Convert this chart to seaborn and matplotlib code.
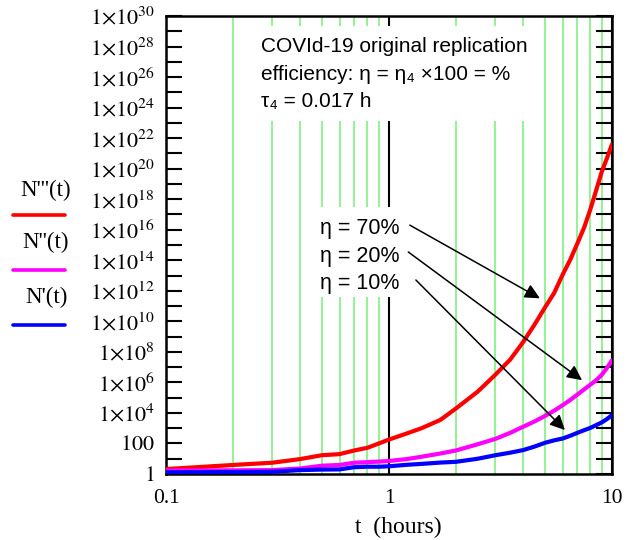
import matplotlib
matplotlib.use("Agg")
import numpy as np
import pandas as pd
import matplotlib.pyplot as plt
import seaborn as sns
from matplotlib.lines import Line2D
from matplotlib.patches import Rectangle
from matplotlib.ticker import LogLocator, NullLocator

# ---------------- data ----------------
t_hours = [0.1, 0.2, 0.3, 0.4, 0.5, 0.6, 0.7, 0.8, 0.9, 1.0, 1.2, 1.4, 1.7, 2.0,
           2.5, 3.0, 3.5, 4.0, 4.5, 5.0, 5.5, 6.0, 6.5, 7.0, 7.5, 8.0, 8.5, 9.0,
           9.5, 10.0]
n_eta70 = [2.1, 3.9, 5.5, 9.5, 17, 20, 35, 52, 100, 180, 450, 1.0e3, 3.5e3, 2.0e4,
           2.5e5, 3.2e6, 3.2e7, 4.5e8, 6.3e9, 7.9e10, 7.1e11, 1.1e13, 1.1e14,
           1.3e15, 1.4e16, 2.2e17, 4.0e18, 6.3e19, 5.0e20, 4.0e21]
n_eta20 = [1.7, 1.74, 1.8, 2.3, 3.5, 3.9, 5.5, 6.0, 6.5, 7.1, 9.5, 13.5, 22, 35,
           89, 200, 500, 1.26e3, 2.8e3, 6.3e3, 1.4e4, 3.2e4, 7.1e4, 1.6e5,
           3.5e5, 7.1e5, 1.4e6, 3.2e6, 8.9e6, 2.8e7]
n_eta10 = [1.3, 1.35, 1.4, 1.8, 1.95, 2.0, 2.8, 3.0, 3.0, 3.2, 4.0, 4.6, 5.6, 6.3,
           10, 17, 25, 37, 63, 110, 160, 210, 320, 500, 740, 1.05e3, 1.6e3,
           2.4e3, 4.0e3, 7.2e3]

series_names = ["N'''(t)", "N''(t)", "N'(t)"]
series_colors = ["#ff0000", "#ff00ff", "#0000ff"]
eta_labels = ["\u03b7 = 70%", "\u03b7 = 20%", "\u03b7 = 10%"]

# arrow geometry for the eta labels (start -> tip, data coords)
arrow_start_t = [1.24, 1.22, 1.32]
arrow_start_n = [2.0e16, 3.5e14, 5.1e12]
arrow_tip_t = [4.75, 7.34, 6.15]
arrow_tip_n = [3.2e11, 1.4e6, 760]

x_tick_values = [0.1, 1, 10]
x_tick_labels = ["0.1", "1", "10"]
y_exponents = list(range(0, 31))

info_lines = ["COVId-19 original replication",
              "efficiency: \u03b7 = \u03b7\u2084 \u00d7100 = %",
              "\u03c4\u2084 = 0.017 h"]

# ---------------- styling ----------------
sns.set_theme(style="white", rc={
    "text.color": "black", "axes.labelcolor": "black",
    "xtick.color": "black", "ytick.color": "black",
    "axes.edgecolor": "black"})
plt.rcParams["font.family"] = ["Liberation Serif", "DejaVu Serif"]
plt.rcParams["mathtext.fontset"] = "stix"

green = "#80f080"

df = pd.DataFrame({
    "t": t_hours * 3,
    "N": n_eta70 + n_eta20 + n_eta10,
    "series": sum([[name] * len(t_hours) for name in series_names], []),
})

fig = plt.figure(figsize=(6.35, 5.40), dpi=100)
ax = fig.add_axes([166 / 635, 1 - 474 / 540, 446 / 635, 458 / 540])
ax.set_xscale("log")
ax.set_yscale("log")

sns.lineplot(data=df, x="t", y="N", hue="series", hue_order=series_names,
             palette=dict(zip(series_names, series_colors)),
             estimator=None, sort=False, lw=3.0, legend=False, ax=ax, zorder=3)

ax.set_xlim(0.1, 10)
ax.set_ylim(1, 1e30)

# vertical grid lines
ax.set_axisbelow(True)
ax.xaxis.set_minor_locator(LogLocator(base=10, subs=np.arange(2, 10)))
ax.grid(False)
ax.grid(True, which="minor", axis="x", color=green, lw=1.2)
ax.grid(True, which="major", axis="x", color="black", lw=1.5)

# ticks
ax.set_xticks(x_tick_values)
ax.set_xticklabels(x_tick_labels)
ax.tick_params(axis="x", which="both", length=0, pad=11, labelsize=15.5)
ax.set_yticks([10.0 ** k for k in y_exponents])
ylabels = []
for k in y_exponents:
    if k % 2:
        ylabels.append("")
    elif k == 0:
        ylabels.append("$1$")
    elif k == 2:
        ylabels.append("$100$")
    else:
        ylabels.append("$1{\\times}10^{%d}$" % k)
ax.set_yticklabels(ylabels)
ax.yaxis.set_minor_locator(NullLocator())
ax.tick_params(axis="y", which="major", direction="in", length=11.5, width=1.5,
               left=True, right=True, labelsize=16, pad=8)
for s in ax.spines.values():
    s.set_color("black")
    s.set_linewidth(1.8)

ax.set_xlabel("t  (hours)", fontsize=17)
ax.xaxis.set_label_coords(0.52, -0.093)
ax.set_ylabel("")

# white boxes masking the grid behind the texts
ax.add_patch(Rectangle((0.157, 0.771), 0.688, 0.207, transform=ax.transAxes,
                       facecolor="white", edgecolor="none", zorder=1))
ax.add_patch(Rectangle((0.305, 0.386), 0.231, 0.197, transform=ax.transAxes,
                       facecolor="white", edgecolor="none", zorder=1))

sans = ["Liberation Sans", "DejaVu Sans"]
for line, yb in zip(info_lines, [0.922, 0.860, 0.801]):
    ax.text(0.213, yb, line, transform=ax.transAxes, ha="left", va="baseline",
            fontsize=15, family=sans, zorder=4)

for lab, yb in zip(eta_labels, [0.524, 0.463, 0.404]):
    ax.text(0.345, yb, lab, transform=ax.transAxes, ha="left", va="baseline",
            fontsize=15.5, family=sans, zorder=4)

for ts, ns, tt, nt in zip(arrow_start_t, arrow_start_n, arrow_tip_t, arrow_tip_n):
    ax.annotate("", xy=(tt, nt), xytext=(ts, ns),
                arrowprops=dict(arrowstyle="-|>,head_length=0.45,head_width=0.22",
                                color="black", lw=1.1, mutation_scale=20,
                                shrinkA=0, shrinkB=0), zorder=5)

# legend on the left (label above line)
leg_text_y = [1 - 190 / 540, 1 - 242 / 540, 1 - 297 / 540]
leg_line_y = [1 - 215 / 540, 1 - 270 / 540, 1 - 325 / 540]
for name, col, ty, ly in zip(series_names, series_colors, leg_text_y, leg_line_y):
    fig.text(46 / 635, ty, name, ha="center", va="center", fontsize=16.5)
    fig.add_artist(Line2D([13 / 635, 65 / 635], [ly, ly], color=col, lw=2.6,
                          transform=fig.transFigure))

fig.savefig("out.png", dpi=100)
